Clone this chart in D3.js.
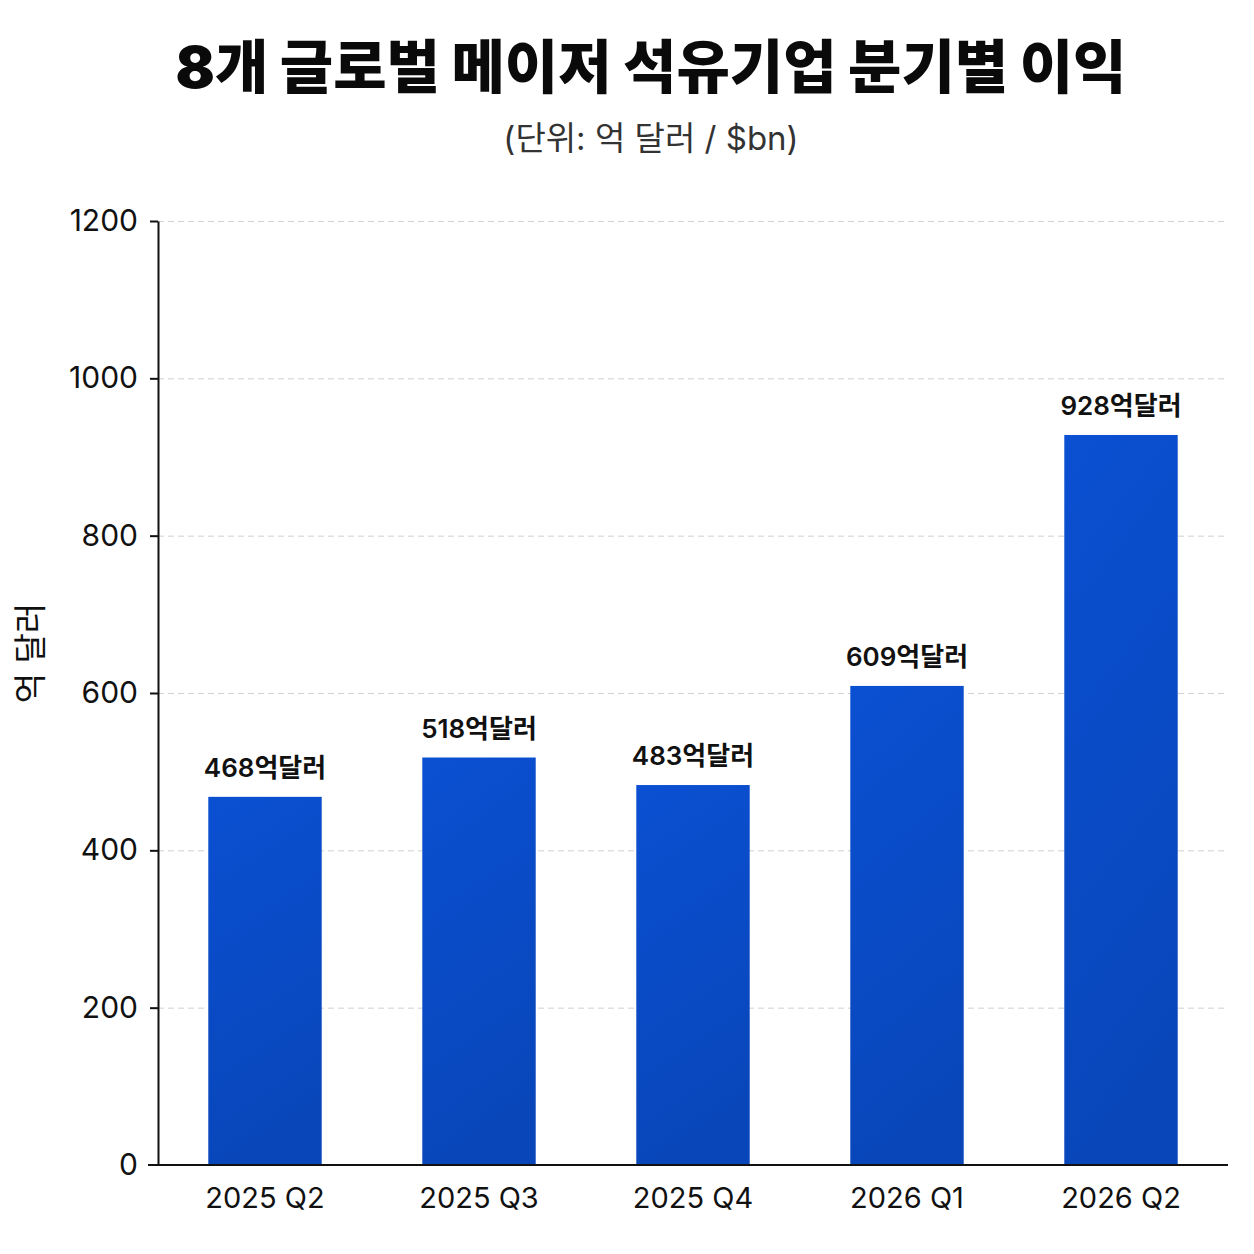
<html>
<head>
<meta charset="utf-8">
<script src="https://d3js.org/d3.v7.min.js"></script>
<style>
    body { margin: 0; background: #fff; }
    text { font-family: Inter, "Noto Sans CJK KR", sans-serif; }
    .gridlines line { stroke: #d0d0d0; stroke-dasharray: 6 4; }
    .gridlines .domain { stroke: none; }
    .axis path, .axis line { stroke: #111; stroke-width: 2; }
</style>
</head>
<body>
<svg id="chart" width="1254" height="1254"></svg>
<script>
const quarters = ["2025 Q2", "2025 Q3", "2025 Q4", "2026 Q1", "2026 Q2"];
const profits = [468, 518, 483, 609, 928];
const yTicks = [0, 200, 400, 600, 800, 1000, 1200];

const svg = d3.select("#chart");
const margin = { top: 221, right: 26, bottom: 89, left: 158 };
const width = 1254, height = 1254;
const chartWidth = width - margin.left - margin.right;
const chartHeight = height - margin.top - margin.bottom;

const defs = svg.append("defs");
const grad = defs.append("linearGradient")
    .attr("id", "barGrad").attr("x1", 0).attr("y1", 0).attr("x2", 0.2).attr("y2", 1);
grad.append("stop").attr("offset", "0%").attr("stop-color", "#0b50d2");
grad.append("stop").attr("offset", "100%").attr("stop-color", "#0846ba");

const xScale = d3.scaleBand().domain(quarters).range([0, chartWidth]).paddingInner(0.47).paddingOuter(0.235);
const yScale = d3.scaleLinear().domain([0, 1200]).range([chartHeight, 0]);

const g = svg.append("g").attr("transform", `translate(${margin.left},${margin.top})`);

// gridlines
g.append("g")
    .attr("class", "gridlines")
    .call(d3.axisLeft(yScale).tickValues(yTicks.slice(1)).tickSize(-chartWidth).tickFormat(""));

// bars
g.selectAll("rect.bar").data(quarters)
    .join("rect")
    .attr("class", "bar")
    .attr("x", d => xScale(d))
    .attr("width", xScale.bandwidth())
    .attr("y", (d, i) => yScale(profits[i]))
    .attr("height", (d, i) => chartHeight - yScale(profits[i]))
    .attr("fill", "url(#barGrad)");

// value labels
g.selectAll("text.value").data(quarters)
    .join("text")
    .attr("class", "value")
    .attr("x", d => xScale(d) + xScale.bandwidth() / 2)
    .attr("y", (d, i) => yScale(profits[i]) - 20)
    .attr("text-anchor", "middle")
    .attr("font-size", 26)
    .attr("font-weight", 600)
    .attr("fill", "#111")
    .text((d, i) => profits[i] + "억달러");

// axes
const leftAxis = g.append("g")
    .attr("class", "axis")
    .call(d3.axisLeft(yScale).tickValues(yTicks).tickSize(8).tickPadding(12).tickSizeOuter(0).tickFormat(d3.format("d")));
leftAxis.selectAll("text").attr("font-size", 30).attr("fill", "#111");
leftAxis.selectAll(".tick").filter(d => d === 0).select("line").remove();

const bottomAxis = g.append("g")
    .attr("class", "axis")
    .attr("transform", `translate(0,${chartHeight})`)
    .call(d3.axisBottom(xScale).tickSize(0).tickPadding(22).tickSizeOuter(0));
bottomAxis.selectAll("text").attr("font-size", 29).attr("fill", "#111");
bottomAxis.select(".domain").attr("d", `M-10,0H${chartWidth}`);

// y axis title
svg.append("text")
    .attr("transform", "translate(42,653) rotate(-90)")
    .attr("text-anchor", "middle")
    .attr("font-size", 33)
    .attr("fill", "#111")
    .text("억 달러");

// titles
svg.append("text")
    .attr("x", 651).attr("y", 88)
    .attr("text-anchor", "middle")
    .attr("font-size", 58)
    .attr("font-weight", 900)
    .attr("fill", "#0a0a0a")
    .text("8개 글로벌 메이저 석유기업 분기별 이익");

svg.append("text")
    .attr("x", 651).attr("y", 150)
    .attr("text-anchor", "middle")
    .attr("font-size", 33)
    .attr("fill", "#333")
    .text("(단위: 억 달러 / $bn)");
</script>
</body>
</html>
